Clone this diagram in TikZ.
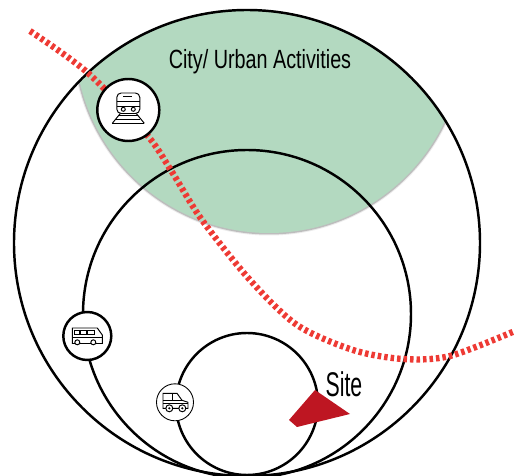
\documentclass[tikz,border=0pt]{standalone}
\usepackage{fontspec}
\setmainfont[FakeStretch=0.75]{Liberation Sans}
\newfontfamily\siteFont[FakeStretch=0.62]{Liberation Sans}

\definecolor{cityGreen}{HTML}{B3D9C0}
\definecolor{cityEdge}{HTML}{BDBDBD}
\definecolor{routeRed}{HTML}{EE3A34}
\definecolor{siteRed}{HTML}{BE1622}

\tikzset{
    ring/.style={line width=1.4pt,black},
    iconLine/.style={line width=0.55pt,black},
    route/.style={line width=3.6pt,routeRed,dash pattern=on 2pt off 1.7pt},
}

\begin{document}
\begin{tikzpicture}[x=0.02cm,y=-0.02cm]
    \useasboundingbox (0,0) rectangle (515,476);

    \coordinate (outerC) at (247,243);
    \coordinate (middleC) at (247,314);
    \coordinate (innerC) at (247,404);
    \coordinate (cityC) at (269,39);
    \coordinate (trainC) at (128.3,110);
    \coordinate (busC) at (87.3,336);
    \coordinate (jeepC) at (175,402.3);

    % green city area
    \begin{scope}
        \clip (outerC) circle (233);
        \fill[black!8] (cityC) circle (196.5);
        \fill[cityEdge] (cityC) circle (195.5);
        \fill[cityGreen] (cityC) circle (194);
    \end{scope}

    \draw[ring] (outerC) circle (233);
    \draw[ring] (middleC) circle (164);
    \draw[ring] (innerC) circle (71);

    \draw[route] plot[smooth] coordinates {(30,31) (88,73) (147,135) (172,172) (202,220) (250,280) (297,325) (353,350) (403,359) (450,356) (515,331)};

    % train
    \draw[ring,fill=white] (trainC) circle (31);
    \begin{scope}[shift={(trainC)},iconLine]
        \draw[rounded corners=2.5pt] (-11.5,3.5) -- (-11.5,-17) -- (11.5,-17) -- (11.5,3.5) -- cycle;
        \draw (-11.5,-9) -- (11.5,-9);
        \draw (-11.5,-3.5) -- (11.5,-3.5);
        \draw (-5,-14) -- (4,-14);
        \draw (-5,-0.7) circle (2);
        \draw (5,-0.7) circle (2);
        \draw (-8,3.5) -- (-16,13.3);
        \draw (8,3.5) -- (16,13.3);
        \draw (-10,5.5) -- (10,5.5);
        \draw (-12,9) -- (12,9);
        \draw (-16,13) -- (16,13);
    \end{scope}

    % bus
    \draw[ring,fill=white] (busC) circle (24);
    \begin{scope}[shift={(busC)},iconLine]
        \draw (-15,-8) -- (10,-8) -- (15,-1) -- (15,7.5) -- (-15,7.5) -- cycle;
        \draw (-13,-5.5) rectangle (-8,-2);
        \draw (-6.5,-5.5) rectangle (-1,-2);
        \draw (0.5,-5.5) rectangle (7,-2);
        \draw (-15,1) -- (15,1);
        \draw[fill=white] (-10,6.3) circle (2.5);
        \draw[fill=white] (6,6.3) circle (2.5);
    \end{scope}

    % jeep
    \draw[line width=0.5pt,black,fill=white] (jeepC) circle (18.5);
    \begin{scope}[shift={(jeepC)},iconLine]
        \draw (-12,-9) -- (2,-9) -- (7,-2) -- (13,0) -- (13,6) -- (-12,6) -- cycle;
        \draw (-12,-2) -- (7,-2);
        \draw (-3,-9) -- (-3,-2);
        \draw (-12,1.5) -- (13,1.5);
        \draw[fill=white] (-5.7,6) circle (3.5);
        \draw[fill=white] (7.3,6) circle (3.5);
        \fill (-5.7,6) circle (1.2);
        \fill (7.3,6) circle (1.2);
    \end{scope}

    \fill[siteRed] (315,390) -- (350,414) -- (297,427) -- (289,420) -- cycle;

    \node[font=\fontsize{15}{17}\selectfont,inner sep=0pt] (cityLabel) at (260,61.5) {City/ Urban Activities};
    \node[font=\siteFont\fontsize{19.5}{21}\selectfont,inner sep=0pt] (siteLabel) at (344,384) {Site};
\end{tikzpicture}
\end{document}
